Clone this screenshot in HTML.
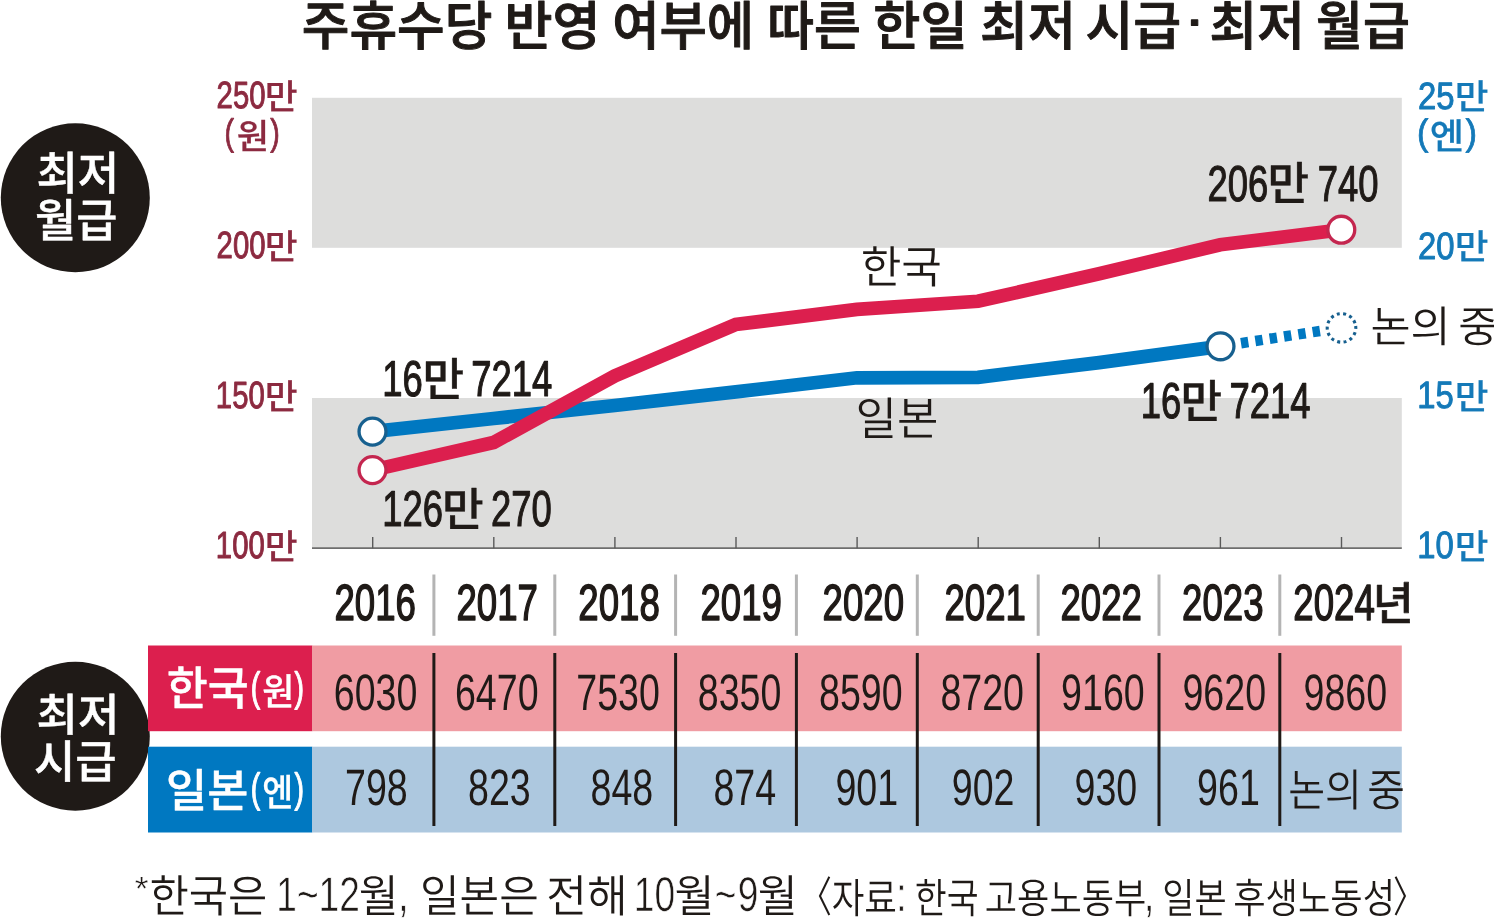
<!DOCTYPE html>
<html lang="ko">
<head>
<meta charset="utf-8">
<title>주휴수당 반영 여부에 따른 한일 최저 시급·최저 월급</title>
<style>
html,body{margin:0;padding:0;background:#fff;}
body{width:1494px;height:920px;overflow:hidden;}
svg{display:block;}
text{font-family:"Liberation Sans","Noto Sans CJK KR",sans-serif;white-space:pre;text-rendering:geometricPrecision;}
</style>
</head>
<body>
<svg width="1494" height="920" viewBox="0 0 1494 920">
<rect x="0" y="0" width="1494" height="920" fill="#ffffff"/>
<rect x="312" y="97.8" width="1089.8" height="150" fill="#dddddc"/>
<rect x="312" y="398" width="1089.8" height="150.3" fill="#dddddc"/>
<g stroke="#6e6e6e" stroke-width="1.7" fill="none">
<line x1="312" y1="548.2" x2="1401.8" y2="548.2"/>
</g>
<g stroke="#5a5a5a" stroke-width="1.4" fill="none">
<line x1="372.7" y1="537" x2="372.7" y2="548.2"/>
<line x1="493.8" y1="537" x2="493.8" y2="548.2"/>
<line x1="614.9" y1="537" x2="614.9" y2="548.2"/>
<line x1="736.0" y1="537" x2="736.0" y2="548.2"/>
<line x1="857.1" y1="537" x2="857.1" y2="548.2"/>
<line x1="978.2" y1="537" x2="978.2" y2="548.2"/>
<line x1="1099.3" y1="537" x2="1099.3" y2="548.2"/>
<line x1="1220.4" y1="537" x2="1220.4" y2="548.2"/>
<line x1="1341.5" y1="537" x2="1341.5" y2="548.2"/>
</g>
<polyline fill="none" stroke="#0078c1" stroke-width="13.7" stroke-linejoin="miter" points="372.5,431.6 493.6,418.5 614.7,405.5 735.8,391.9 856.9,377.8 978.0,377.3 1099.1,362.6 1220.2,346.4"/>
<line x1="1220.2" y1="346.4" x2="1321.99" y2="330.68" stroke="#0078c1" stroke-width="10.5" stroke-dasharray="7.4 7.1" stroke-dashoffset="7.95"/>
<polyline fill="none" stroke="#dc1f4e" stroke-width="13.7" stroke-linejoin="miter" points="372.5,470.1 493.6,442.5 614.7,376.0 735.8,324.5 856.9,309.4 978.0,301.3 1099.1,273.7 1220.2,244.8 1341.3,229.7"/>
<g fill="#ffffff" stroke-width="3.3">
<circle cx="372.5" cy="431.6" r="13.45" stroke="#17608f"/>
<circle cx="1220.5" cy="346.3" r="13.45" stroke="#17608f"/>
<circle cx="1341.5" cy="327.9" r="14.3" stroke="#17608f" stroke-width="3.1" stroke-dasharray="3 3.418" transform="rotate(-8 1341.5 327.9)"/>
<circle cx="372.5" cy="470.1" r="13.45" stroke="#c4264f"/>
<circle cx="1341.3" cy="229.7" r="13.45" stroke="#c4264f"/>
</g>
<circle cx="75.3" cy="197.8" r="74.5" fill="#1f1a17"/>
<circle cx="75.3" cy="736.2" r="74.5" fill="#1f1a17"/>
<rect x="148" y="645.5" width="164.2" height="85.7" fill="#dc1f4e"/>
<rect x="312" y="645.5" width="1089.8" height="85.7" fill="#f09ca3"/>
<rect x="148" y="746.7" width="164.2" height="85.8" fill="#0078c1"/>
<rect x="312" y="746.7" width="1089.8" height="85.8" fill="#adc8df"/>
<g stroke="#b4b4b4" stroke-width="3">
<line x1="433.9" y1="574.5" x2="433.9" y2="635.8"/>
<line x1="554.8" y1="574.5" x2="554.8" y2="635.8"/>
<line x1="675.6" y1="574.5" x2="675.6" y2="635.8"/>
<line x1="796.4" y1="574.5" x2="796.4" y2="635.8"/>
<line x1="917.3" y1="574.5" x2="917.3" y2="635.8"/>
<line x1="1038.2" y1="574.5" x2="1038.2" y2="635.8"/>
<line x1="1159.0" y1="574.5" x2="1159.0" y2="635.8"/>
<line x1="1279.8" y1="574.5" x2="1279.8" y2="635.8"/>
</g>
<g stroke="#1f1a17" stroke-width="3">
<line x1="433.9" y1="653" x2="433.9" y2="826"/>
<line x1="554.8" y1="653" x2="554.8" y2="826"/>
<line x1="675.6" y1="653" x2="675.6" y2="826"/>
<line x1="796.4" y1="653" x2="796.4" y2="826"/>
<line x1="917.3" y1="653" x2="917.3" y2="826"/>
<line x1="1038.2" y1="653" x2="1038.2" y2="826"/>
<line x1="1159.0" y1="653" x2="1159.0" y2="826"/>
<line x1="1279.8" y1="653" x2="1279.8" y2="826"/>
</g>
<g>
<text transform="matrix(0.9804 0 0 1 301.75 45.34)" font-size="52.85" font-weight="500" fill="#1f1a17" stroke="#1f1a17" stroke-width="1.01" stroke-linejoin="round">주휴수당</text>
<text transform="matrix(0.9874 0 0 1 504.42 45.34)" font-size="52.85" font-weight="500" fill="#1f1a17" stroke="#1f1a17" stroke-width="1.01" stroke-linejoin="round">반영</text>
<text transform="matrix(0.9726 0 0 1 612.29 45.34)" font-size="52.85" font-weight="500" fill="#1f1a17" stroke="#1f1a17" stroke-width="1.01" stroke-linejoin="round">여부에</text>
<text transform="matrix(0.9626 0 0 1 767.29 45.34)" font-size="52.85" font-weight="500" fill="#1f1a17" stroke="#1f1a17" stroke-width="1.02" stroke-linejoin="round">따른</text>
<text transform="matrix(0.9683 0 0 1 873.31 45.34)" font-size="52.85" font-weight="500" fill="#1f1a17" stroke="#1f1a17" stroke-width="1.02" stroke-linejoin="round">한일</text>
<text transform="matrix(0.9886 0 0 1 979.94 45.34)" font-size="52.85" font-weight="500" fill="#1f1a17" stroke="#1f1a17" stroke-width="1.01" stroke-linejoin="round">최저</text>
<text transform="matrix(0.9843 0 0 1 1085.45 45.34)" font-size="52.85" font-weight="500" fill="#1f1a17" stroke="#1f1a17" stroke-width="1.01" stroke-linejoin="round">시급</text>
<text transform="matrix(1.2625 0 0 1 1183.62 36.87)" font-size="52.85" font-weight="500" fill="#1f1a17" stroke="#1f1a17" stroke-width="0.88" stroke-linejoin="round">·</text>
<text transform="matrix(0.9801 0 0 1 1209.50 45.34)" font-size="52.85" font-weight="500" fill="#1f1a17" stroke="#1f1a17" stroke-width="1.01" stroke-linejoin="round">최저</text>
<text transform="matrix(0.9645 0 0 1 1316.07 45.34)" font-size="52.85" font-weight="500" fill="#1f1a17" stroke="#1f1a17" stroke-width="1.02" stroke-linejoin="round">월급</text>
<text transform="matrix(0.7732 0 0 1 216.62 108.01)" font-size="37.86" font-weight="400" fill="#8c2a40" stroke="#8c2a40" stroke-width="1.02" stroke-linejoin="round">250</text>
<text transform="matrix(1.0379 0 0 1 264.85 108.51)" font-size="34.44" font-weight="500" fill="#8c2a40" stroke="#8c2a40" stroke-width="0.20" stroke-linejoin="round">만</text>
<text transform="matrix(0.7696 0 0 1 224.39 145.19)" font-size="37.10" font-weight="400" fill="#8c2a40" stroke="#8c2a40" stroke-width="0.90" stroke-linejoin="round">(</text>
<text transform="matrix(1.0067 0 0 1 236.78 148.67)" font-size="34.97" font-weight="500" fill="#8c2a40" stroke="#8c2a40" stroke-width="0.20" stroke-linejoin="round">원</text>
<text transform="matrix(0.7696 0 0 1 270.35 145.05)" font-size="37.10" font-weight="400" fill="#8c2a40" stroke="#8c2a40" stroke-width="0.90" stroke-linejoin="round">)</text>
<text transform="matrix(0.7732 0 0 1 216.62 258.07)" font-size="37.86" font-weight="400" fill="#8c2a40" stroke="#8c2a40" stroke-width="1.02" stroke-linejoin="round">200</text>
<text transform="matrix(1.0379 0 0 1 264.85 258.54)" font-size="34.44" font-weight="500" fill="#8c2a40" stroke="#8c2a40" stroke-width="0.20" stroke-linejoin="round">만</text>
<text transform="matrix(0.7732 0 0 1 215.86 408.09)" font-size="37.86" font-weight="400" fill="#8c2a40" stroke="#8c2a40" stroke-width="1.02" stroke-linejoin="round">150</text>
<text transform="matrix(1.0379 0 0 1 264.85 408.54)" font-size="34.44" font-weight="500" fill="#8c2a40" stroke="#8c2a40" stroke-width="0.20" stroke-linejoin="round">만</text>
<text transform="matrix(0.7732 0 0 1 215.86 558.09)" font-size="37.86" font-weight="400" fill="#8c2a40" stroke="#8c2a40" stroke-width="1.02" stroke-linejoin="round">100</text>
<text transform="matrix(1.0379 0 0 1 264.85 558.54)" font-size="34.44" font-weight="500" fill="#8c2a40" stroke="#8c2a40" stroke-width="0.20" stroke-linejoin="round">만</text>
<text transform="matrix(0.8612 0 0 1 1418.10 108.50)" font-size="38.11" font-weight="400" fill="#1479b8" stroke="#1479b8" stroke-width="0.97" stroke-linejoin="round">25</text>
<text transform="matrix(1.0635 0 0 1 1454.81 108.51)" font-size="34.46" font-weight="500" fill="#1479b8" stroke="#1479b8" stroke-width="0.19" stroke-linejoin="round">만</text>
<text transform="matrix(0.9364 0 0 1 1416.90 144.79)" font-size="36.79" font-weight="400" fill="#1479b8" stroke="#1479b8" stroke-width="0.83" stroke-linejoin="round">(</text>
<text transform="matrix(1.0480 0 0 1 1429.78 148.56)" font-size="35.76" font-weight="500" fill="#1479b8" stroke="#1479b8" stroke-width="0.20" stroke-linejoin="round">엔</text>
<text transform="matrix(0.9364 0 0 1 1465.61 144.78)" font-size="36.79" font-weight="400" fill="#1479b8" stroke="#1479b8" stroke-width="0.83" stroke-linejoin="round">)</text>
<text transform="matrix(0.8612 0 0 1 1418.10 258.50)" font-size="38.11" font-weight="400" fill="#1479b8" stroke="#1479b8" stroke-width="0.97" stroke-linejoin="round">20</text>
<text transform="matrix(1.0635 0 0 1 1454.81 258.54)" font-size="34.46" font-weight="500" fill="#1479b8" stroke="#1479b8" stroke-width="0.19" stroke-linejoin="round">만</text>
<text transform="matrix(0.8612 0 0 1 1417.18 407.84)" font-size="38.11" font-weight="400" fill="#1479b8" stroke="#1479b8" stroke-width="0.97" stroke-linejoin="round">15</text>
<text transform="matrix(1.0635 0 0 1 1454.81 408.54)" font-size="34.46" font-weight="500" fill="#1479b8" stroke="#1479b8" stroke-width="0.19" stroke-linejoin="round">만</text>
<text transform="matrix(0.8612 0 0 1 1417.18 558.49)" font-size="38.11" font-weight="400" fill="#1479b8" stroke="#1479b8" stroke-width="0.97" stroke-linejoin="round">10</text>
<text transform="matrix(1.0635 0 0 1 1454.81 558.54)" font-size="34.46" font-weight="500" fill="#1479b8" stroke="#1479b8" stroke-width="0.19" stroke-linejoin="round">만</text>
<text transform="matrix(0.9814 0 0 1 36.39 190.43)" font-size="45.93" font-weight="500" fill="#ffffff" stroke="#ffffff" stroke-width="0.45" stroke-linejoin="round">최저</text>
<text transform="matrix(0.9803 0 0 1 35.03 237.12)" font-size="45.65" font-weight="500" fill="#ffffff" stroke="#ffffff" stroke-width="0.45" stroke-linejoin="round">월급</text>
<text transform="matrix(1.0025 0 0 1 36.49 730.54)" font-size="44.88" font-weight="500" fill="#ffffff" stroke="#ffffff" stroke-width="0.45" stroke-linejoin="round">최저</text>
<text transform="matrix(0.9934 0 0 1 33.96 778.37)" font-size="45.25" font-weight="500" fill="#ffffff" stroke="#ffffff" stroke-width="0.45" stroke-linejoin="round">시급</text>
<text transform="matrix(0.7246 0 0 1 382.25 396.08)" font-size="50.29" font-weight="400" fill="#1f1a17" stroke="#1f1a17" stroke-width="1.16" stroke-linejoin="round">16</text>
<text transform="matrix(0.9887 0 0 1 422.48 396.21)" font-size="45.75" font-weight="500" fill="#1f1a17" stroke="#1f1a17" stroke-width="0.40" stroke-linejoin="round">만</text>
<text transform="matrix(0.7246 0 0 1 471.18 396.03)" font-size="50.29" font-weight="400" fill="#1f1a17" stroke="#1f1a17" stroke-width="1.16" stroke-linejoin="round">7214</text>
<text transform="matrix(0.7246 0 0 1 382.25 525.65)" font-size="50.29" font-weight="400" fill="#1f1a17" stroke="#1f1a17" stroke-width="1.16" stroke-linejoin="round">126</text>
<text transform="matrix(0.9887 0 0 1 441.88 525.97)" font-size="45.75" font-weight="500" fill="#1f1a17" stroke="#1f1a17" stroke-width="0.40" stroke-linejoin="round">만</text>
<text transform="matrix(0.7246 0 0 1 490.99 525.65)" font-size="50.29" font-weight="400" fill="#1f1a17" stroke="#1f1a17" stroke-width="1.16" stroke-linejoin="round">270</text>
<text transform="matrix(0.7246 0 0 1 1207.55 200.85)" font-size="50.29" font-weight="400" fill="#1f1a17" stroke="#1f1a17" stroke-width="1.16" stroke-linejoin="round">206</text>
<text transform="matrix(0.9887 0 0 1 1267.48 200.00)" font-size="45.75" font-weight="500" fill="#1f1a17" stroke="#1f1a17" stroke-width="0.40" stroke-linejoin="round">만</text>
<text transform="matrix(0.7246 0 0 1 1317.81 200.88)" font-size="50.29" font-weight="400" fill="#1f1a17" stroke="#1f1a17" stroke-width="1.16" stroke-linejoin="round">740</text>
<text transform="matrix(0.7246 0 0 1 1140.75 417.86)" font-size="50.29" font-weight="400" fill="#1f1a17" stroke="#1f1a17" stroke-width="1.16" stroke-linejoin="round">16</text>
<text transform="matrix(0.9887 0 0 1 1180.48 418.00)" font-size="45.75" font-weight="500" fill="#1f1a17" stroke="#1f1a17" stroke-width="0.40" stroke-linejoin="round">만</text>
<text transform="matrix(0.7246 0 0 1 1229.54 417.74)" font-size="50.29" font-weight="400" fill="#1f1a17" stroke="#1f1a17" stroke-width="1.16" stroke-linejoin="round">7214</text>
<text transform="matrix(0.9918 0 0 1 860.73 282.58)" font-size="44.51" font-weight="350" fill="#1f1a17">한국</text>
<text transform="matrix(0.9886 0 0 1 855.62 434.86)" font-size="45.62" font-weight="350" fill="#1f1a17">일본</text>
<text transform="matrix(1.0151 0 0 1 1370.39 341.97)" font-size="42.95" font-weight="350" fill="#1f1a17">논의</text>
<text transform="matrix(1.0151 0 0 1 1458.37 341.97)" font-size="42.95" font-weight="350" fill="#1f1a17">중</text>
<text transform="matrix(0.7229 0 0 1 334.40 619.94)" font-size="50.70" font-weight="400" fill="#1f1a17" stroke="#1f1a17" stroke-width="1.51" stroke-linejoin="round">2016</text>
<text transform="matrix(0.7229 0 0 1 456.48 619.96)" font-size="50.70" font-weight="400" fill="#1f1a17" stroke="#1f1a17" stroke-width="1.51" stroke-linejoin="round">2017</text>
<text transform="matrix(0.7229 0 0 1 578.32 619.97)" font-size="50.70" font-weight="400" fill="#1f1a17" stroke="#1f1a17" stroke-width="1.51" stroke-linejoin="round">2018</text>
<text transform="matrix(0.7229 0 0 1 700.40 620.00)" font-size="50.70" font-weight="400" fill="#1f1a17" stroke="#1f1a17" stroke-width="1.51" stroke-linejoin="round">2019</text>
<text transform="matrix(0.7229 0 0 1 822.56 620.00)" font-size="50.70" font-weight="400" fill="#1f1a17" stroke="#1f1a17" stroke-width="1.51" stroke-linejoin="round">2020</text>
<text transform="matrix(0.7229 0 0 1 944.40 620.00)" font-size="50.70" font-weight="400" fill="#1f1a17" stroke="#1f1a17" stroke-width="1.51" stroke-linejoin="round">2021</text>
<text transform="matrix(0.7229 0 0 1 1060.40 620.00)" font-size="50.70" font-weight="400" fill="#1f1a17" stroke="#1f1a17" stroke-width="1.51" stroke-linejoin="round">2022</text>
<text transform="matrix(0.7229 0 0 1 1182.06 620.00)" font-size="50.70" font-weight="400" fill="#1f1a17" stroke="#1f1a17" stroke-width="1.51" stroke-linejoin="round">2023</text>
<text transform="matrix(0.7229 0 0 1 1293.32 619.96)" font-size="50.70" font-weight="400" fill="#1f1a17" stroke="#1f1a17" stroke-width="1.51" stroke-linejoin="round">2024</text>
<text transform="matrix(0.9814 0 0 1 1372.72 619.61)" font-size="45.58" font-weight="500" fill="#1f1a17" stroke="#1f1a17" stroke-width="0.61" stroke-linejoin="round">년</text>
<text transform="matrix(0.9636 0 0 1 166.80 705.34)" font-size="46.23" font-weight="500" fill="#ffffff" stroke="#ffffff" stroke-width="0.46" stroke-linejoin="round">한국</text>
<text transform="matrix(0.6970 0 0 1 250.72 701.04)" font-size="40.92" font-weight="400" fill="#ffffff" stroke="#ffffff" stroke-width="1.18" stroke-linejoin="round">(</text>
<text transform="matrix(0.9438 0 0 1 262.22 705.03)" font-size="37.04" font-weight="500" fill="#ffffff" stroke="#ffffff" stroke-width="0.31" stroke-linejoin="round">원</text>
<text transform="matrix(0.6970 0 0 1 294.40 701.12)" font-size="40.92" font-weight="400" fill="#ffffff" stroke="#ffffff" stroke-width="1.18" stroke-linejoin="round">)</text>
<text transform="matrix(0.7332 0 0 1 333.80 709.56)" font-size="51.24" font-weight="400" fill="#1f1a17">6030</text>
<text transform="matrix(0.7332 0 0 1 454.95 709.51)" font-size="51.24" font-weight="400" fill="#1f1a17">6470</text>
<text transform="matrix(0.7332 0 0 1 576.25 709.54)" font-size="51.24" font-weight="400" fill="#1f1a17">7530</text>
<text transform="matrix(0.7332 0 0 1 697.75 709.50)" font-size="51.24" font-weight="400" fill="#1f1a17">8350</text>
<text transform="matrix(0.7332 0 0 1 819.07 709.53)" font-size="51.24" font-weight="400" fill="#1f1a17">8590</text>
<text transform="matrix(0.7332 0 0 1 940.39 709.54)" font-size="51.24" font-weight="400" fill="#1f1a17">8720</text>
<text transform="matrix(0.7332 0 0 1 1061.11 709.54)" font-size="51.24" font-weight="400" fill="#1f1a17">9160</text>
<text transform="matrix(0.7332 0 0 1 1182.47 709.53)" font-size="51.24" font-weight="400" fill="#1f1a17">9620</text>
<text transform="matrix(0.7332 0 0 1 1303.55 709.53)" font-size="51.24" font-weight="400" fill="#1f1a17">9860</text>
<text transform="matrix(0.9773 0 0 1 166.11 806.66)" font-size="45.69" font-weight="500" fill="#ffffff" stroke="#ffffff" stroke-width="0.46" stroke-linejoin="round">일본</text>
<text transform="matrix(0.6970 0 0 1 250.72 801.92)" font-size="40.92" font-weight="400" fill="#ffffff" stroke="#ffffff" stroke-width="1.18" stroke-linejoin="round">(</text>
<text transform="matrix(0.9009 0 0 1 262.22 805.95)" font-size="37.36" font-weight="500" fill="#ffffff" stroke="#ffffff" stroke-width="0.32" stroke-linejoin="round">엔</text>
<text transform="matrix(0.6970 0 0 1 294.40 801.92)" font-size="40.92" font-weight="400" fill="#ffffff" stroke="#ffffff" stroke-width="1.18" stroke-linejoin="round">)</text>
<text transform="matrix(0.7332 0 0 1 345.08 805.14)" font-size="51.24" font-weight="400" fill="#1f1a17">798</text>
<text transform="matrix(0.7332 0 0 1 468.07 805.11)" font-size="51.24" font-weight="400" fill="#1f1a17">823</text>
<text transform="matrix(0.7332 0 0 1 590.59 805.07)" font-size="51.24" font-weight="400" fill="#1f1a17">848</text>
<text transform="matrix(0.7332 0 0 1 713.39 805.00)" font-size="51.24" font-weight="400" fill="#1f1a17">874</text>
<text transform="matrix(0.7332 0 0 1 835.40 805.12)" font-size="51.24" font-weight="400" fill="#1f1a17">901</text>
<text transform="matrix(0.7332 0 0 1 951.79 805.13)" font-size="51.24" font-weight="400" fill="#1f1a17">902</text>
<text transform="matrix(0.7332 0 0 1 1074.55 805.11)" font-size="51.24" font-weight="400" fill="#1f1a17">930</text>
<text transform="matrix(0.7332 0 0 1 1197.11 805.14)" font-size="51.24" font-weight="400" fill="#1f1a17">961</text>
<text transform="matrix(0.9050 0 0 1 1288.15 805.80)" font-size="44.24" font-weight="350" fill="#1f1a17">논의</text>
<text transform="matrix(0.9255 0 0 1 1367.21 805.80)" font-size="44.24" font-weight="350" fill="#1f1a17">중</text>
<text transform="matrix(1.0539 0 0 1 134.85 900.23)" font-size="33.55" font-weight="400" fill="#1f1a17" stroke="#ffffff" stroke-width="0.39" stroke-linejoin="round">*</text>
<text transform="matrix(0.9600 0 0 1 149.51 911.58)" font-size="44.51" font-weight="350" fill="#1f1a17">한국은</text>
<text transform="matrix(0.7600 0 0 1 276.21 911.15)" font-size="48.85" font-weight="400" fill="#1f1a17" stroke="#ffffff" stroke-width="0.68" stroke-linejoin="round">1</text>
<text transform="matrix(0.7600 0 0 1 297.05 911.15)" font-size="48.85" font-weight="400" fill="#1f1a17" stroke="#ffffff" stroke-width="0.68" stroke-linejoin="round">~</text>
<text transform="matrix(0.7600 0 0 1 318.54 911.15)" font-size="48.85" font-weight="400" fill="#1f1a17" stroke="#ffffff" stroke-width="0.68" stroke-linejoin="round">12</text>
<text transform="matrix(0.9742 0 0 1 358.65 911.58)" font-size="44.51" font-weight="350" fill="#1f1a17">월</text>
<text transform="matrix(0.7600 0 0 1 398.35 911.15)" font-size="48.85" font-weight="400" fill="#1f1a17" stroke="#ffffff" stroke-width="0.68" stroke-linejoin="round">,</text>
<text transform="matrix(0.9677 0 0 1 419.99 911.58)" font-size="44.51" font-weight="350" fill="#1f1a17">일본은</text>
<text transform="matrix(0.9965 0 0 1 546.27 911.58)" font-size="44.51" font-weight="350" fill="#1f1a17">전해</text>
<text transform="matrix(0.7600 0 0 1 633.84 911.15)" font-size="48.85" font-weight="400" fill="#1f1a17" stroke="#ffffff" stroke-width="0.68" stroke-linejoin="round">10</text>
<text transform="matrix(0.9782 0 0 1 674.42 911.58)" font-size="44.51" font-weight="350" fill="#1f1a17">월</text>
<text transform="matrix(0.7600 0 0 1 714.67 911.15)" font-size="48.85" font-weight="400" fill="#1f1a17" stroke="#ffffff" stroke-width="0.68" stroke-linejoin="round">~</text>
<text transform="matrix(0.7600 0 0 1 737.81 911.15)" font-size="48.85" font-weight="400" fill="#1f1a17" stroke="#ffffff" stroke-width="0.68" stroke-linejoin="round">9</text>
<text transform="matrix(0.9776 0 0 1 757.82 911.58)" font-size="44.51" font-weight="350" fill="#1f1a17">월</text>
<text transform="matrix(0.7581 0 0 1 799.71 912.35)" font-size="42.42" font-weight="350" fill="#1f1a17">〈</text>
<text transform="matrix(0.8594 0 0 1 831.69 912.58)" font-size="41.26" font-weight="350" fill="#1f1a17">자료</text>
<text transform="matrix(0.7600 0 0 1 896.22 911.15)" font-size="48.85" font-weight="400" fill="#1f1a17" stroke="#ffffff" stroke-width="0.68" stroke-linejoin="round">:</text>
<text transform="matrix(0.8410 0 0 1 914.78 912.58)" font-size="41.26" font-weight="350" fill="#1f1a17">한국</text>
<text transform="matrix(0.8504 0 0 1 984.83 912.58)" font-size="41.26" font-weight="350" fill="#1f1a17">고용노동부</text>
<text transform="matrix(0.7600 0 0 1 1144.05 911.15)" font-size="48.85" font-weight="400" fill="#1f1a17" stroke="#ffffff" stroke-width="0.68" stroke-linejoin="round">,</text>
<text transform="matrix(0.8498 0 0 1 1162.36 912.58)" font-size="41.26" font-weight="350" fill="#1f1a17">일본</text>
<text transform="matrix(0.8527 0 0 1 1233.23 912.58)" font-size="41.26" font-weight="350" fill="#1f1a17">후생노동성</text>
<text transform="matrix(0.7581 0 0 1 1392.90 911.91)" font-size="42.42" font-weight="350" fill="#1f1a17">〉</text>
</g>

</svg>
</body>
</html>
